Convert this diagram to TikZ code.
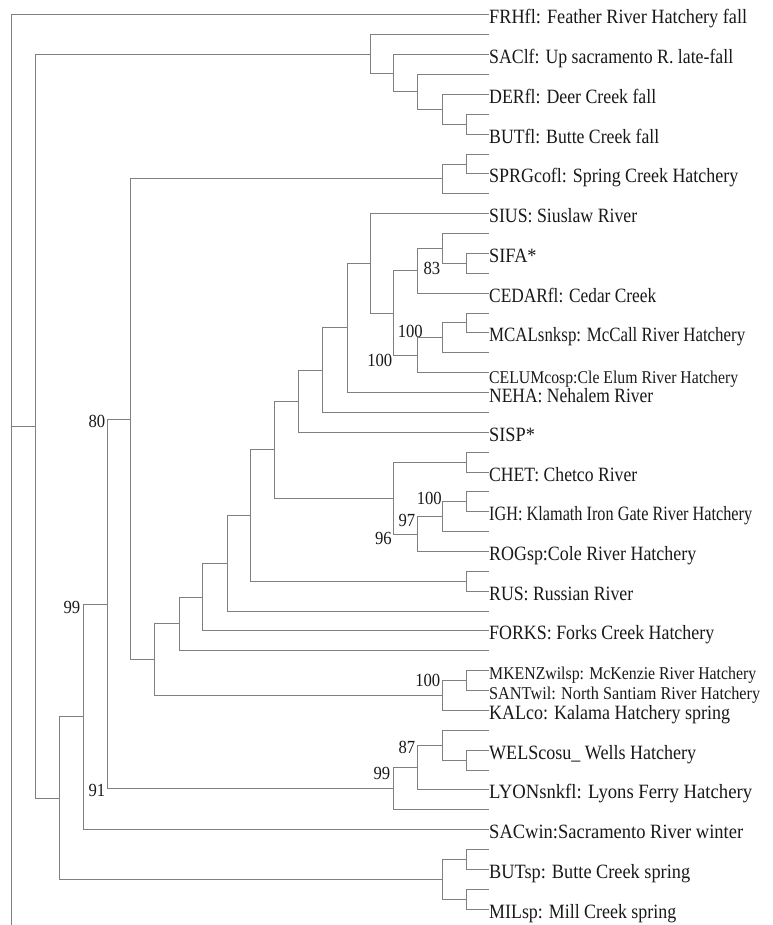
\documentclass[tikz,border=0pt]{standalone}
\usepackage{fontspec}
\setmainfont{Liberation Serif}[FakeStretch=0.9]
\definecolor{linegray}{RGB}{128,128,128}
\definecolor{txtcol}{RGB}{25,25,25}
\tikzset{
  br/.style={draw=linegray, line width=1pt},
  lab/.style={anchor=base west, inner sep=0pt, text=txtcol, font=\fontsize{20.3}{22}\selectfont},
  slab/.style={lab, font=\fontsize{18}{20}\selectfont},
  bs/.style={anchor=east, inner sep=0pt, text=txtcol, font=\fontsize{18.5}{20}\selectfont},
}
\newcommand\tbr[3]{\draw[br] (#1) |- (#2) (#1) |- (#3);}
\newcommand\fitw[2]{\resizebox{#1pt}{\height}{#2}}
\begin{document}
\begin{tikzpicture}[x=1pt,y=-1pt]
\useasboundingbox (0,0) rectangle (772,925);
% leaf ends
\foreach \i in {1,...,46} \coordinate (l\i) at (489,{15+(\i-1)*19.87});
% internal nodes
\coordinate (root) at (11,220.5);
\coordinate (rootend) at (11,925);
\coordinate (r2) at (35,426.11);
\coordinate (a370) at (370,54.12);
\coordinate (a393) at (393,73.37);
\coordinate (a417) at (417,92.00);
\coordinate (a442) at (442,109.38);
\coordinate (a466) at (466,124.29);
\coordinate (n59) at (59,798.10);
\coordinate (n83) at (83,716.85);
\coordinate (n107) at (107,604.02);
\coordinate (n130) at (130,419.35);
\coordinate (s442) at (442,178.93);
\coordinate (s466) at (466,164.03);
\coordinate (n154) at (154,659.77);
\coordinate (n179) at (179,623.99);
\coordinate (n202) at (202,597.13);
\coordinate (n227) at (227,563.29);
\coordinate (n250) at (250,515.47);
\coordinate (n274) at (274,449.65);
\coordinate (n298) at (298,401.22);
\coordinate (n322) at (322,370.18);
\coordinate (n347) at (347,327.95);
\coordinate (n370) at (370,263.38);
\coordinate (n393) at (393,313.05);
\coordinate (x417) at (417,270.83);
\coordinate (x442) at (442,248.47);
\coordinate (x466) at (466,263.38);
\coordinate (b417) at (417,355.27);
\coordinate (b442) at (442,337.89);
\coordinate (b466) at (466,322.99);
\coordinate (c393) at (393,498.09);
\coordinate (c466) at (466,462.08);
\coordinate (c417) at (417,534.10);
\coordinate (c442) at (442,516.72);
\coordinate (d466) at (466,501.81);
\coordinate (e466) at (466,581.30);
\coordinate (k442) at (442,695.55);
\coordinate (k466) at (466,680.65);
\coordinate (y393) at (393,788.69);
\coordinate (y417) at (417,767.58);
\coordinate (y442) at (442,745.22);
\coordinate (y466) at (466,760.13);
\coordinate (z442) at (442,879.35);
\coordinate (p466) at (466,859.48);
\coordinate (q466) at (466,899.22);
% branches
\tbr{root}{l1}{r2}
\draw[br] (root) -- (rootend);
\tbr{r2}{a370}{n59}
\tbr{a370}{l2}{a393}
\tbr{a393}{l3}{a417}
\tbr{a417}{l4}{a442}
\tbr{a442}{l5}{a466}
\tbr{a466}{l6}{l7}
\tbr{n59}{n83}{z442}
\tbr{z442}{p466}{q466}
\tbr{p466}{l43}{l44}
\tbr{q466}{l45}{l46}
\tbr{n83}{n107}{l42}
\tbr{n107}{n130}{y393}
\tbr{y393}{y417}{l41}
\tbr{y417}{y442}{l40}
\tbr{y442}{l37}{y466}
\tbr{y466}{l38}{l39}
\tbr{n130}{s442}{n154}
\tbr{s442}{s466}{l10}
\tbr{s466}{l8}{l9}
\tbr{n154}{n179}{k442}
\tbr{k442}{k466}{l36}
\tbr{k466}{l34}{l35}
\tbr{n179}{n202}{l33}
\tbr{n202}{n227}{l32}
\tbr{n227}{n250}{l31}
\tbr{n250}{n274}{e466}
\tbr{e466}{l29}{l30}
\tbr{n274}{n298}{c393}
\tbr{c393}{c466}{c417}
\tbr{c466}{l23}{l24}
\tbr{c417}{c442}{l28}
\tbr{c442}{d466}{l27}
\tbr{d466}{l25}{l26}
\tbr{n298}{n322}{l22}
\tbr{n322}{n347}{l21}
\tbr{n347}{n370}{l20}
\tbr{n370}{l11}{n393}
\tbr{n393}{x417}{b417}
\tbr{x417}{x442}{l15}
\tbr{x442}{l12}{x466}
\tbr{x466}{l13}{l14}
\tbr{b417}{b442}{l19}
\tbr{b442}{b466}{l18}
\tbr{b466}{l16}{l17}
% leaf labels
\node[lab] (t1) at ([yshift=-9pt]l1) {\fitw{258}{FRHfl: Feather River Hatchery fall}};
\node[lab] (t3) at ([yshift=-9pt]l3) {\fitw{244}{SAClf: Up sacramento R. late-fall}};
\node[lab] (t5) at ([yshift=-9pt]l5) {\fitw{167}{DERfl: Deer Creek fall}};
\node[lab] (t7) at ([yshift=-9pt]l7) {\fitw{170}{BUTfl: Butte Creek fall}};
\node[lab] (t9) at ([yshift=-9pt]l9) {\fitw{249}{SPRGcofl: Spring Creek Hatchery}};
\node[lab] (t11) at ([yshift=-9pt]l11) {\fitw{148}{SIUS: Siuslaw River}};
\node[lab] (t13) at ([yshift=-9pt]l13) {SIFA*};
\node[lab] (t15) at ([yshift=-9pt]l15) {\fitw{167}{CEDARfl: Cedar Creek}};
\node[lab] (t17) at ([yshift=-9pt]l17) {\fitw{256}{MCALsnksp: McCall River Hatchery}};
\node[slab] (t19) at ([yshift=-11pt]l19) {\fitw{249}{CELUMcosp:Cle Elum River Hatchery}};
\node[lab] (t20) at ([yshift=-9.5pt]l20) {\fitw{164}{NEHA: Nehalem River}};
\node[lab] (t22) at ([yshift=-9pt]l22) {SISP*};
\node[lab] (t24) at ([yshift=-9pt]l24) {\fitw{148}{CHET: Chetco River}};
\node[lab] (t26) at ([yshift=-9pt]l26) {\fitw{263}{IGH: Klamath Iron Gate River Hatchery}};
\node[lab] (t28) at ([yshift=-9pt]l28) {\fitw{207}{ROGsp:Cole River Hatchery}};
\node[lab] (t30) at ([yshift=-9pt]l30) {\fitw{144}{RUS: Russian River}};
\node[lab] (t32) at ([yshift=-9pt]l32) {\fitw{225}{FORKS: Forks Creek Hatchery}};
\node[slab] (t34) at ([yshift=-9pt]l34) {\fitw{267}{MKENZwilsp: McKenzie River Hatchery}};
\node[slab] (t35) at ([yshift=-9pt]l35) {\fitw{271}{SANTwil: North Santiam River Hatchery}};
\node[lab] (t36) at ([yshift=-9pt]l36) {\fitw{241}{KALco: Kalama Hatchery spring}};
\node[lab] (t38) at ([yshift=-9pt]l38) {\fitw{207}{WELScosu\_ Wells Hatchery}};
\node[lab] (t40) at ([yshift=-9pt]l40) {\fitw{263}{LYONsnkfl: Lyons Ferry Hatchery}};
\node[lab] (t42) at ([yshift=-9pt]l42) {\fitw{254}{SACwin:Sacramento River winter}};
\node[lab] (t44) at ([yshift=-9pt]l44) {\fitw{201}{BUTsp: Butte Creek spring}};
\node[lab] (t46) at ([yshift=-9pt]l46) {\fitw{187}{MILsp: Mill Creek spring}};
% bootstrap values
\node[bs] (bs83) at (440.5,268) {83};
\node[bs] (bs100a) at (423,331) {100};
\node[bs] (bs100b) at (392.5,360) {100};
\node[bs] (bs100c) at (442,498) {100};
\node[bs] (bs97) at (415.5,520) {97};
\node[bs] (bs96) at (392,538) {96};
\node[bs] (bs80) at (105.5,421) {80};
\node[bs] (bs99a) at (80.5,607) {99};
\node[bs] (bs91) at (105.5,790) {91};
\node[bs] (bs99b) at (390.5,773) {99};
\node[bs] (bs87) at (415.5,747) {87};
\node[bs] (bs100d) at (440.5,680) {100};
\end{tikzpicture}
\end{document}
